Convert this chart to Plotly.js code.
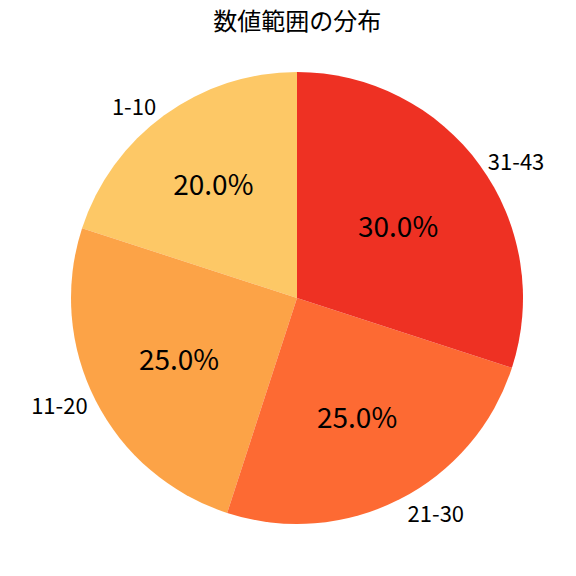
<!DOCTYPE html>
<html>
<head>
<meta charset="utf-8">
<script src="https://cdn.plot.ly/plotly-3.0.1.min.js"></script>
<style>
  html, body { margin: 0; padding: 0; background: #fff; }
  #chart { width: 576px; height: 576px; }
</style>
</head>
<body>
<div id="chart"></div>
<script>
const rangeLabels = ["1-10", "11-20", "21-30", "31-43"];
const rangeShares = [20, 25, 25, 30];
const sliceColors = ["#fdc866", "#fca347", "#fd6a33", "#ee3123"];

const FONT = "Noto Sans CJK JP, Noto Sans, sans-serif";

const pieBase = {
  type: "pie",
  labels: rangeLabels,
  values: rangeShares,
  sort: false,
  direction: "counterclockwise",
  rotation: -72,
  hoverinfo: "skip",
  showlegend: false,
};

// colored slices with percentages inside
const tSlices = {
  ...pieBase,
  marker: { colors: sliceColors, line: { width: 0 } },
  texttemplate: "%{percent:.1%}",
  textposition: "inside",
  insidetextorientation: "horizontal",
  insidetextfont: { family: FONT, size: 28, color: "#000" },
};

// transparent copy that only carries the outside labels
const tLabels = {
  ...pieBase,
  marker: { colors: rangeLabels.map(() => "rgba(0,0,0,0)"), line: { width: 0 } },
  texttemplate: "%{label}",
  textposition: "outside",
  outsidetextfont: { family: FONT, size: 22, color: "#000" },
};

const layout = {
  width: 576,
  height: 576,
  title: {
    text: "数値範囲の分布",
    font: { family: FONT, size: 24, color: "#000" },
    x: 0.516,
    xanchor: "center",
    y: 0.962,
    yanchor: "middle",
  },
  margin: { l: 71, r: 53, t: 72, b: 52 },
  paper_bgcolor: "#fff",
  plot_bgcolor: "#fff",
};

Plotly.newPlot("chart", [tSlices, tLabels], layout, { displayModeBar: false, staticPlot: true });
</script>
</body>
</html>
